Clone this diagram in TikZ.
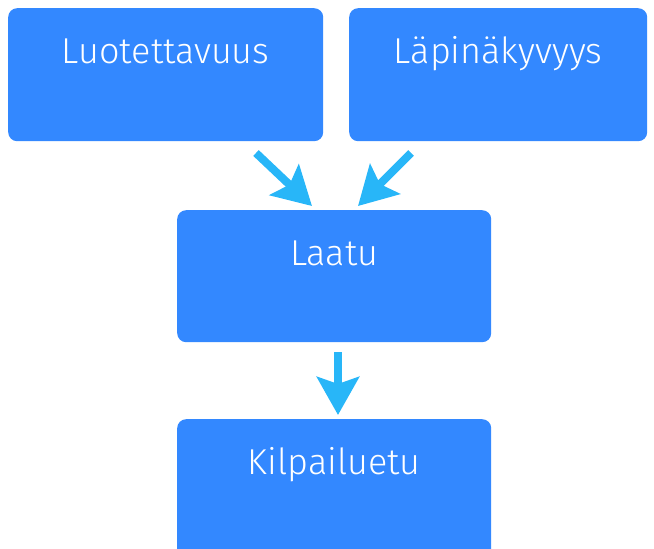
\documentclass[tikz,border=0pt]{standalone}
\usepackage{fontspec}
\setmainfont{Fira Sans Light}
\usetikzlibrary{arrows.meta}
\definecolor{boxblue}{RGB}{51,136,255}
\definecolor{arrowblue}{RGB}{40,182,248}
\begin{document}
\begin{tikzpicture}[x=1pt,y=-1pt,
  box/.style={fill=boxblue, rounded corners=9pt, anchor=north west, inner sep=0pt},
  lbl/.style={anchor=base, text=white, font=\fontsize{36}{40}\selectfont, yshift=-55pt},
  flow/.style={draw=arrowblue, line width=8pt,
    -{Stealth[length=38pt, width=42pt, inset=7pt]}}]
  \useasboundingbox (0,0) rectangle (654,549);
  \node[box, minimum width=315pt, minimum height=133pt,
        label={[lbl]north:Luotettavuus}] (luo) at (8,8) {};
  \node[box, minimum width=298pt, minimum height=133pt,
        label={[lbl]north:Läpinäkyvyys}] (lap) at (349,8) {};
  \node[box, minimum width=314pt, minimum height=132pt,
        label={[lbl]north:Laatu}] (laatu) at (177,210) {};
  \node[box, minimum width=314pt, minimum height=140pt,
        label={[lbl]north:Kilpailuetu}] (kilp) at (177,419) {};
  % arrow end points in the gaps between the boxes
  \coordinate (s1) at (256,153);
  \coordinate (e1) at (312,206);
  \coordinate (s2) at (411,153);
  \coordinate (e2) at (358,206);
  \coordinate (s3) at (338,352);
  \coordinate (e3) at (338,415);
  \draw[flow] (s1) -- (e1);
  \draw[flow] (s2) -- (e2);
  \draw[flow] (s3) -- (e3);
\end{tikzpicture}
\end{document}
